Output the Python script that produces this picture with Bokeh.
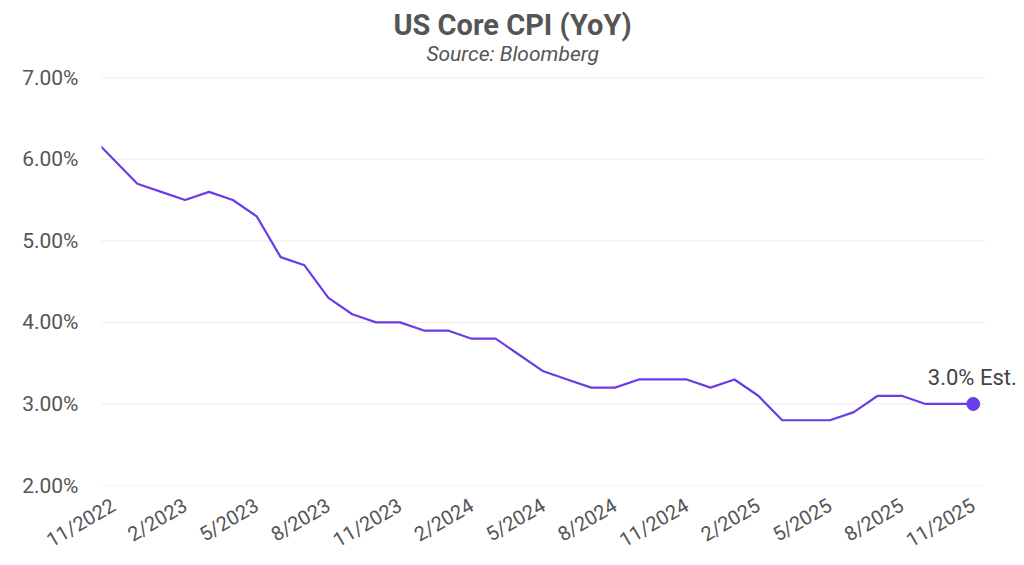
from bokeh.plotting import figure
from bokeh.models import Range1d, FixedTicker, PrintfTickFormatter, Label, ColumnDataSource
from bokeh.embed import file_html
from bokeh.resources import INLINE

months = ["10/2022", "11/2022", "12/2022",
          "1/2023", "2/2023", "3/2023", "4/2023", "5/2023", "6/2023", "7/2023", "8/2023", "9/2023", "10/2023", "11/2023", "12/2023",
          "1/2024", "2/2024", "3/2024", "4/2024", "5/2024", "6/2024", "7/2024", "8/2024", "9/2024", "10/2024", "11/2024", "12/2024",
          "1/2025", "2/2025", "3/2025", "4/2025", "5/2025", "6/2025", "7/2025", "8/2025", "9/2025", "10/2025", "11/2025"]
core_cpi = [6.3, 6.0, 5.7,
            5.6, 5.5, 5.6, 5.5, 5.3, 4.8, 4.7, 4.3, 4.1, 4.0, 4.0, 3.9,
            3.9, 3.8, 3.8, 3.6, 3.4, 3.3, 3.2, 3.2, 3.3, 3.3, 3.3, 3.2,
            3.3, 3.1, 2.8, 2.8, 2.8, 2.9, 3.1, 3.1, 3.0, 3.0, 3.0]
y_ticks = [2, 3, 4, 5, 6, 7]
x_tick_labels = ["11/2022", "2/2023", "5/2023", "8/2023", "11/2023", "2/2024", "5/2024",
                 "8/2024", "11/2024", "2/2025", "5/2025", "8/2025", "11/2025"]
title_text = "US Core CPI (YoY)"
subtitle_text = "Source: Bloomberg"
est_label = "3.0% Est."

# x position: months since 11/2022
xs = [i - 1 for i in range(len(months))]
src = ColumnDataSource(dict(x=xs, y=core_cpi, m=months))

FONT = "Roboto"
LINE = "#6a3de8"
GREY = "#555555"

# layout: frame spans the full top so the headings can sit inside it
PX_PER_UNIT = 81.68
Y_TOP = 7 + 77.3 / PX_PER_UNIT

p = figure(width=1016, height=565, output_backend="svg", toolbar_location=None, title=None,
           x_range=Range1d(-0.5, 37.81), y_range=Range1d(2, Y_TOP),
           min_border_left=101, min_border_right=0, min_border_bottom=0, min_border_top=0)

p.outline_line_color = None
p.background_fill_color = "white"
p.border_fill_color = "white"

# headings (placed in screen-derived data positions)
x_center = (512 - 112.8) / 23.886
p.add_layout(Label(x=x_center, y=Y_TOP - 25 / PX_PER_UNIT, text=title_text, text_align="center",
                   text_baseline="middle", text_font=FONT, text_font_style="bold",
                   text_font_size="29px", text_color=GREY))
p.add_layout(Label(x=x_center, y=Y_TOP - 54 / PX_PER_UNIT, text=subtitle_text, text_align="center",
                   text_baseline="middle", text_font=FONT, text_font_style="italic",
                   text_font_size="21px", text_color=GREY))

# horizontal gridlines spanning the data area only
p.segment(x0=[-0.5] * len(y_ticks), x1=[36.5] * len(y_ticks), y0=y_ticks, y1=y_ticks,
          line_color="#ebebeb", line_width=1)

p.line("x", "y", source=src, line_color=LINE, line_width=2.2)
p.scatter(x=[xs[-1]], y=[core_cpi[-1]], size=13, color=LINE)
p.add_layout(Label(x=xs[-1], y=core_cpi[-1], text=est_label, text_align="center", text_baseline="bottom",
                   y_offset=14, x_offset=-1, text_font=FONT, text_font_size="22px", text_color="#444444"))

# axes
tick_pos = [months.index(t) - 1 for t in x_tick_labels]
p.xaxis.ticker = FixedTicker(ticks=tick_pos)
p.xaxis.major_label_overrides = {pos: lab for pos, lab in zip(tick_pos, x_tick_labels)}
p.xaxis.major_label_orientation = 0.53
p.yaxis.ticker = FixedTicker(ticks=y_ticks)
p.yaxis.formatter = PrintfTickFormatter(format="%.2f%%")
for ax in (p.xaxis, p.yaxis):
    ax.axis_line_color = None
    ax.major_tick_line_color = None
    ax.minor_tick_line_color = None
    ax.major_label_text_font = FONT
    ax.major_label_text_color = GREY
p.yaxis.major_label_text_font_size = "21px"
p.xaxis.major_label_text_font_size = "20px"
p.yaxis.major_label_standoff = 17
p.xaxis.major_label_standoff = 12

p.xgrid.grid_line_color = None
p.ygrid.grid_line_color = None

open("out.html", "w").write(file_html(p, INLINE))
